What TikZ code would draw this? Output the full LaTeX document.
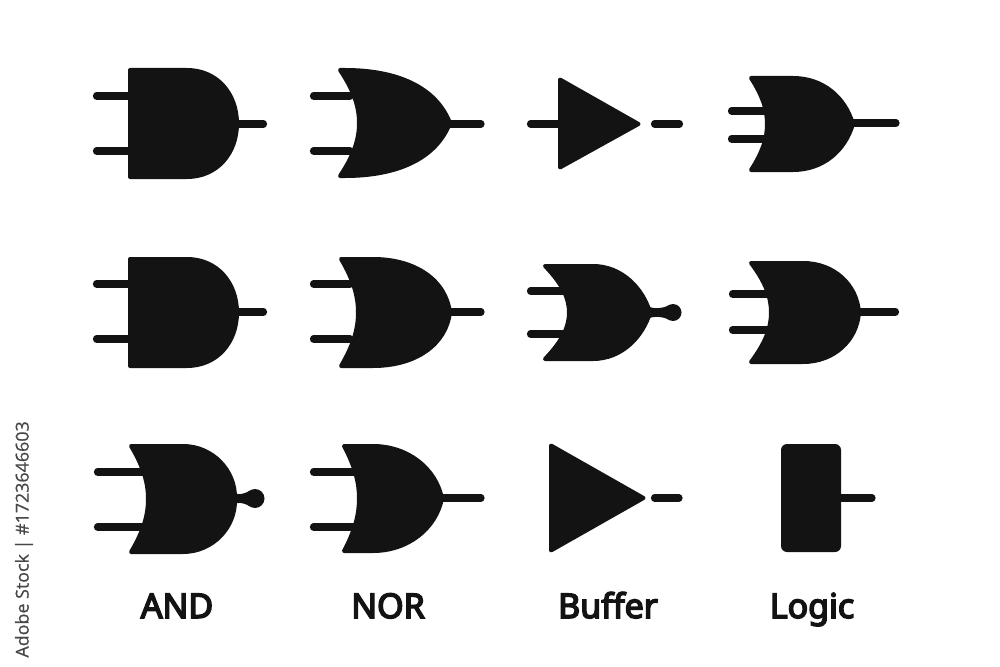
\documentclass[tikz,border=0pt]{standalone}
\usepackage{fontspec}
\setmainfont{Noto Sans}
\newfontfamily\sidefont[FakeBold=0.6]{Open Sans}
\newfontfamily\labelfont[FakeBold=4.5]{Noto Sans}
\definecolor{ink}{HTML}{131313}
\tikzset{
  gatebody/.style={fill=ink,draw=ink,line width=3pt,line join=round},
  wire/.style={draw=ink,line width=5.4pt,line cap=round},
  gatelabel/.style={text=ink,font=\labelfont\fontsize{25.5}{28}\selectfont,anchor=base,inner sep=0pt},
  sidelabel/.style={text=black!72,font=\sidefont\fontsize{13.4}{16}\selectfont,rotate=90,anchor=east,inner sep=0pt}
}
% tip x, top, bottom, notch x, flat end x, ctrl1 x, ctrl2 x, ctrl2 dy, right x
\newcommand{\orgate}[9]{%
  \pgfmathsetmacro{\ymid}{(#2+#3)/2}%
  \pgfmathsetmacro{\hh}{(#3-#2)/2-2}%
  \pgfmathsetmacro{\dxx}{#4-#1}%
  \path[gatebody] (#1+2,#2+2) -- (#5,#2+2)
    .. controls (#6,#2+2) and (#7,\ymid-#8) .. (#9-2,\ymid)
    .. controls (#7,\ymid+#8) and (#6,#3-2) .. (#5,#3-2)
    -- (#1+2,#3-2)
    .. controls (#1+2+0.78*\dxx,\ymid+0.58*\hh) and (#4+2,\ymid+0.28*\hh) .. (#4+2,\ymid)
    .. controls (#4+2,\ymid-0.28*\hh) and (#1+2+0.78*\dxx,\ymid-0.58*\hh) .. cycle;}
% left, top, bottom, flat end, right
\newcommand{\andgate}[5]{%
  \pgfmathsetmacro{\ymid}{(#2+#3)/2}%
  \path[gatebody] (#1+2,#2+2) -- (#4,#2+2)
    .. controls (#4+30,#2+2) and (#5-2,\ymid-30) .. (#5-2,\ymid)
    .. controls (#5-2,\ymid+30) and (#4+30,#3-2) .. (#4,#3-2)
    -- (#1+2,#3-2) -- cycle;}
\newcommand{\buffergate}[5]{%
  \path[gatebody] (#1+2,#2+2.5) -- (#4-2.5,#5) -- (#1+2,#3-2.5) -- cycle;}
% teardrop bubble: neck start x, y, centre x, radius
\newcommand{\bubble}[4]{%
  \fill[ink] (#1,#2-6) .. controls (#1+6,#2-3.5) and (#3-#4-3,#2-3.5) .. (#3-0.5*#4,#2-0.85*#4)
    -- (#3-0.5*#4,#2+0.85*#4)
    .. controls (#3-#4-3,#2+3.5) and (#1+6,#2+3.5) .. (#1,#2+6) -- cycle;
  \fill[ink] (#3,#2) circle [radius=#4];}
\begin{document}
\begin{tikzpicture}[x=0.75pt,y=-0.75pt]
\useasboundingbox (0,0) rectangle (1000,667);
\fill[white] (0,0) rectangle (1000,667);

% row 1
\draw[wire] (96.5,96) -- (135,96);
\draw[wire] (96.5,151) -- (135,151);
\draw[wire] (235,124) -- (263.5,124);
\andgate{128}{68}{179}{187}{239}

\draw[wire] (313.5,96) -- (350,96);
\draw[wire] (313.5,151) -- (350,151);
\draw[wire] (445,124) -- (481,124);
\orgate{338}{68}{178}{357}{345}{397}{436}{36}{452}

\draw[wire] (530.5,124) -- (565,124);
\buffergate{558}{77}{170}{641}{124}
\draw[wire] (654.5,124) -- (679.5,124);

\draw[wire] (731.5,111) -- (772,111);
\draw[wire] (731.5,139) -- (772,139);
\draw[wire] (850,123) -- (896,123);
\orgate{749}{76}{172}{765}{793}{823}{845}{27}{855}

% row 2
\draw[wire] (96.5,284) -- (135,284);
\draw[wire] (96.5,339) -- (135,339);
\draw[wire] (235,312) -- (263.5,312);
\andgate{128}{257}{368}{187}{239}

\draw[wire] (313.5,284) -- (350,284);
\draw[wire] (313.5,339) -- (350,339);
\draw[wire] (445,312) -- (481,312);
\orgate{339}{257}{368}{356}{373}{416}{446}{32}{452}

\draw[wire] (530.5,291) -- (572,291);
\draw[wire] (530.5,334) -- (572,334);
\bubble{648}{312.5}{673}{8.5}
\orgate{543}{264}{361}{567}{593}{622}{643}{24}{652}

\draw[wire] (732.5,294) -- (775,294);
\draw[wire] (732.5,330) -- (775,330);
\draw[wire] (855,312) -- (895.5,312);
\orgate{749}{261}{364}{769}{803}{834}{857}{28}{861}

% row 3
\draw[wire] (97.5,472) -- (150,472);
\draw[wire] (97.5,527) -- (150,527);
\bubble{232}{498.5}{255}{9.5}
\orgate{129}{444}{554}{146}{183}{213}{236}{28}{237}

\draw[wire] (313.5,472) -- (362,472);
\draw[wire] (313.5,527) -- (362,527);
\draw[wire] (438,498) -- (481,498);
\orgate{342}{444}{553}{357}{373}{408}{436}{30}{444}

\buffergate{549}{443}{553}{646}{498}
\draw[wire] (654.5,498) -- (679,498);

\draw[wire] (835,498) -- (872,498);
\fill[ink] (781,444) [rounded corners=4.5pt] rectangle (841,552);

% labels
\node[gatelabel] (andlabel) at (177,618) {AND};
\node[gatelabel] (norlabel) at (388,618) {NOR};
\node[gatelabel] (bufferlabel) at (608,618) {Buffer};
\node[gatelabel] (logiclabel) at (812,618) {Logic};
\node[sidelabel] (stockid) at (24,421) {Adobe Stock | \#1723646603};
\end{tikzpicture}
\end{document}
